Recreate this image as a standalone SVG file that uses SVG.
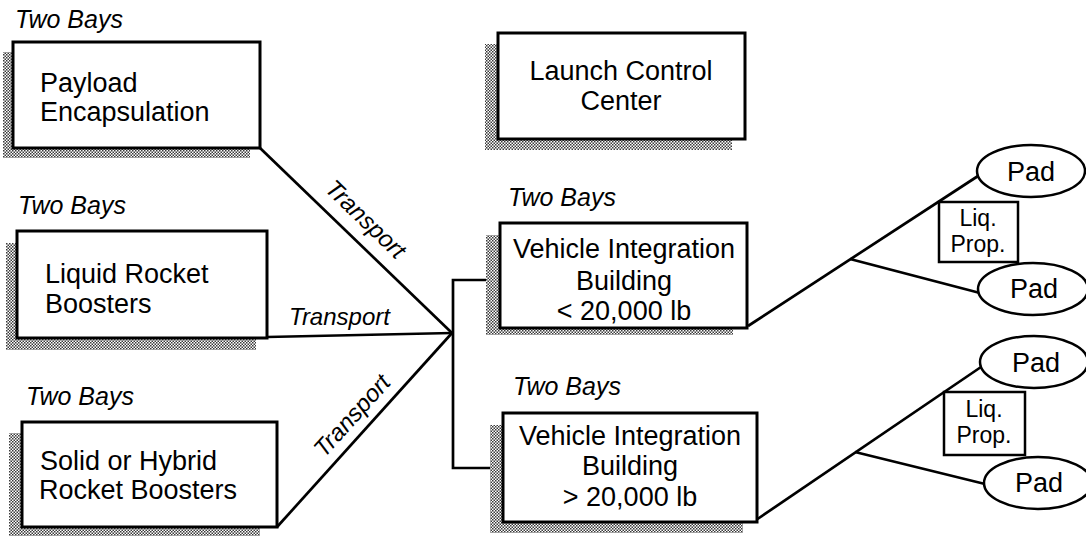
<svg xmlns="http://www.w3.org/2000/svg" width="1086" height="542" viewBox="0 0 1086 542">
<defs>
<pattern id="dots" width="3" height="3" patternUnits="userSpaceOnUse">
<rect width="3" height="3" fill="#fff"/>
<rect width="1.5" height="1.5" fill="#3a3a3a"/>
<rect x="1.5" y="1.5" width="1.5" height="1.5" fill="#3a3a3a"/>
</pattern>
</defs>
<style>
.shadow{fill:url(#dots);stroke:none}
.box{fill:#fff;stroke:#000;stroke-width:3}
.sbox{fill:#fff;stroke:#000;stroke-width:2.5}
.pad{fill:#fff;stroke:#000;stroke-width:2.5}
.line{fill:none;stroke:#000;stroke-width:2.7;stroke-linejoin:miter}
.t{font-family:"Liberation Sans",Arial,sans-serif;font-size:27px;fill:#000}
.m{text-anchor:middle}
.s{font-family:"Liberation Sans",Arial,sans-serif;font-size:23px;fill:#000}
.i{font-family:"Liberation Sans",Arial,sans-serif;font-size:25px;font-style:italic;fill:#000}
.tr{font-family:"Liberation Sans",Arial,sans-serif;font-size:24px;font-style:italic;fill:#000}
</style>
<rect width="1086" height="542" fill="#fff"/>

<g id="connectors">
<polyline class="line" points="260,148 452,333"/>
<polyline class="line" points="267,337 452,333"/>
<polyline class="line" points="277,527 452,333"/>
<polyline class="line" points="500,280 453,280 453,468 503,468"/>
<polyline class="line" points="748,326 978,176"/>
<polyline class="line" points="850,259 980,293"/>
<polyline class="line" points="756,520 981,367"/>
<polyline class="line" points="855,452 985,484"/>
<text class="tr m" transform="translate(360,225) rotate(44)">Transport</text>
<text class="tr" x="289" y="325">Transport</text>
<text class="tr m" transform="translate(358,421) rotate(-48)">Transport</text>
</g>

<g id="payload">
<text class="i" x="15" y="28">Two Bays</text>
<rect class="shadow" x="3" y="52" width="247" height="106"/>
<rect class="box" x="13" y="42" width="247" height="106"/>
<text class="t" x="40" y="92">Payload</text>
<text class="t" x="40" y="121">Encapsulation</text>
</g>

<g id="launch-control">
<rect class="shadow" x="485" y="44" width="247" height="106"/>
<rect class="box" x="498" y="33" width="247" height="106"/>
<text class="t m" x="621" y="80">Launch Control</text>
<text class="t m" x="621" y="110">Center</text>
</g>

<g id="liquid">
<text class="i" x="18" y="214">Two Bays</text>
<rect class="shadow" x="6" y="243" width="250" height="107"/>
<rect class="box" x="17" y="231" width="250" height="107"/>
<text class="t" x="45" y="283">Liquid Rocket</text>
<text class="t" x="45" y="313">Boosters</text>
</g>

<g id="solid">
<text class="i" x="26" y="405">Two Bays</text>
<rect class="shadow" x="9" y="433" width="251" height="103"/>
<rect class="box" x="22" y="422" width="255" height="105"/>
<text class="t" x="40" y="470">Solid or Hybrid</text>
<text class="t" x="39" y="499">Rocket Boosters</text>
</g>

<g id="vib-small">
<text class="i" x="508" y="206">Two Bays</text>
<rect class="shadow" x="486" y="235" width="247" height="100"/>
<rect class="box" x="500" y="223" width="247" height="105"/>
<text class="t m" x="624" y="258">Vehicle Integration</text>
<text class="t m" x="624" y="290">Building</text>
<text class="t m" x="624" y="320">&lt; 20,000 lb</text>
</g>

<g id="vib-large">
<text class="i" x="513" y="395">Two Bays</text>
<rect class="shadow" x="490" y="425" width="253" height="108"/>
<rect class="box" x="503" y="413" width="254" height="109"/>
<text class="t m" x="630" y="445">Vehicle Integration</text>
<text class="t m" x="630" y="475">Building</text>
<text class="t m" x="630" y="506">&gt; 20,000 lb</text>
</g>

<g id="pad-1">
<ellipse class="pad" cx="1031" cy="171" rx="54" ry="26"/>
<text class="t m" x="1031" y="181">Pad</text>
</g>
<g id="pad-2">
<ellipse class="pad" cx="1033" cy="289" rx="55" ry="26"/>
<text class="t m" x="1034" y="298">Pad</text>
</g>
<g id="liq-prop-1">
<rect class="sbox" x="939" y="202" width="79" height="60"/>
<text class="s m" x="978" y="226">Liq.</text>
<text class="s m" x="978" y="252">Prop.</text>
</g>
<g id="pad-3">
<ellipse class="pad" cx="1034" cy="362" rx="54" ry="26"/>
<text class="t m" x="1036" y="372">Pad</text>
</g>
<g id="pad-4">
<ellipse class="pad" cx="1038" cy="483" rx="54" ry="26"/>
<text class="t m" x="1039" y="492">Pad</text>
</g>
<g id="liq-prop-2">
<rect class="sbox" x="944" y="392" width="81" height="63"/>
<text class="s m" x="984" y="417">Liq.</text>
<text class="s m" x="984" y="443">Prop.</text>
</g>
</svg>
